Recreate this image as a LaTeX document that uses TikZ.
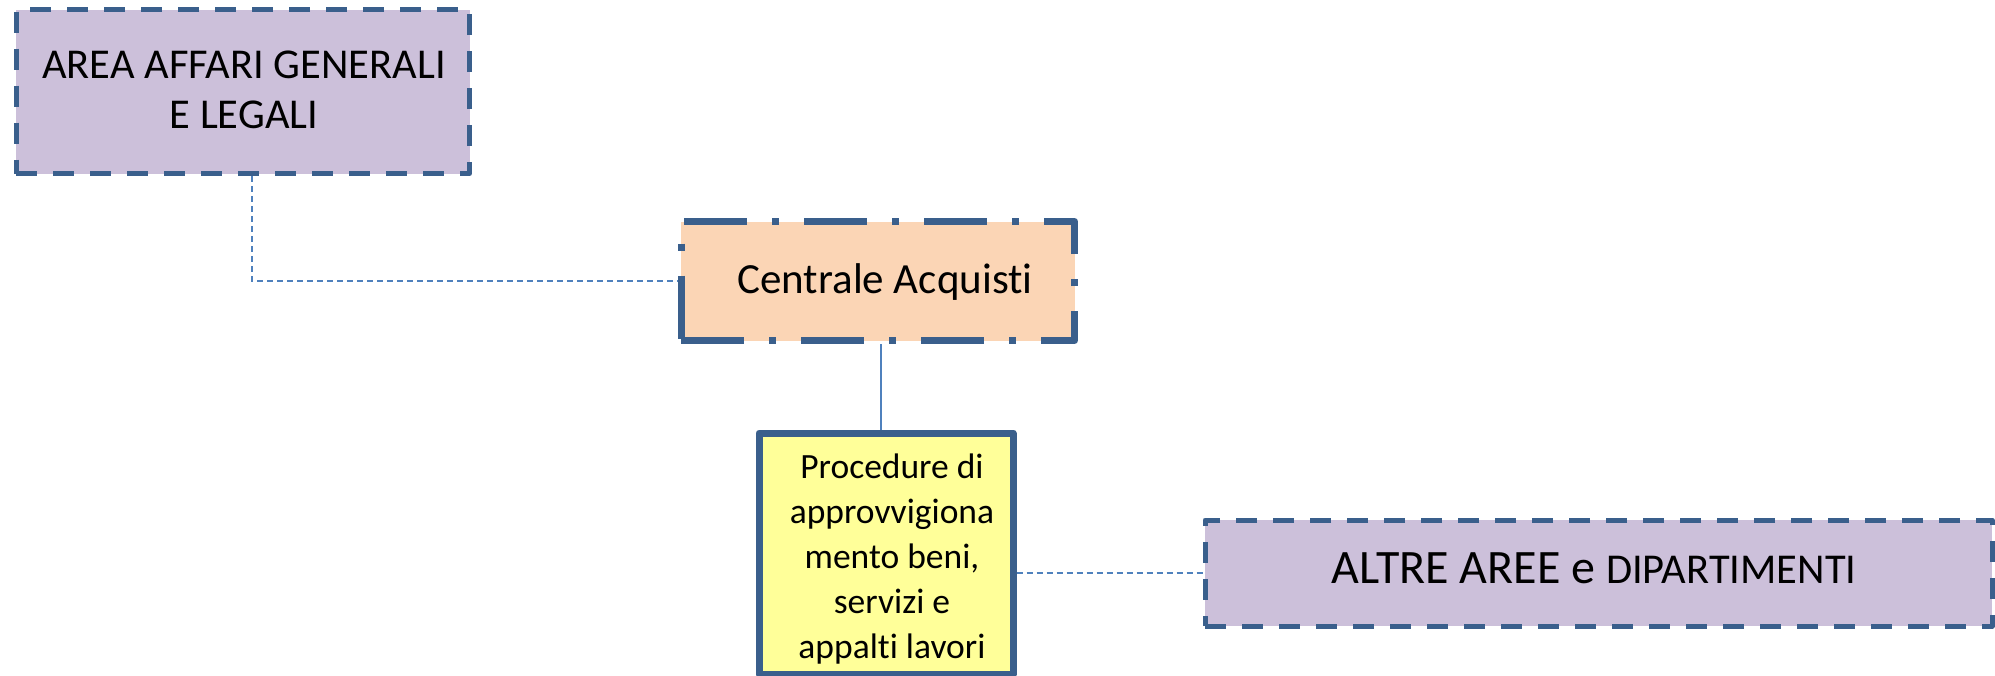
\documentclass[tikz,border=0pt]{standalone}
\usepackage{fontspec}
\setmainfont{Carlito}[Ligatures=NoCommon]
\definecolor{bordc}{RGB}{58,95,140}
\definecolor{linec}{RGB}{79,129,189}
\definecolor{lilac}{RGB}{204,192,218}
\definecolor{peach}{RGB}{251,213,181}
\definecolor{paleyel}{RGB}{255,255,153}
\tikzset{
  boxbase/.style={draw=bordc, rectangle, inner sep=0pt, line join=round},
  dashbox/.style={boxbase, fill=lilac, line width=5pt, dash pattern=on 21pt off 16pt},
  dashdotbox/.style={boxbase, fill=peach, line width=7pt, dash pattern=on 63pt off 25pt on 7pt off 25pt},
  solidbox/.style={boxbase, fill=paleyel, line width=7pt},
  conn/.style={draw=linec, line width=1.5pt},
  dconn/.style={conn, dash pattern=on 6pt off 4pt},
  lbl/.style={inner sep=0pt, text=black, align=center}
}
\begin{document}
\begin{tikzpicture}[x=1pt,y=-1pt]
\useasboundingbox (0,0) rectangle (1995,675);
% boxes
\node[dashbox, minimum width=453.5pt, minimum height=164pt] (area) at (242.75,91.5) {};
\node[dashdotbox, minimum width=393.5pt, minimum height=119pt] (cent) at (877.75,281) {};
\node[solidbox, minimum width=254pt, minimum height=241pt] (proc) at (886,553.5) {};
\node[dashbox, minimum width=787pt, minimum height=106pt] (altre) at (1598.5,573) {};
% texts (base anchor = baseline of the last line)
\node[lbl, anchor=base, font=\fontsize{42.5}{50}\selectfont] (areaT) at (244,128) {AREA AFFARI GENERALI\\E LEGALI};
\node[lbl, anchor=base, font=\fontsize{43}{50}\selectfont] (centT) at (885,293) {Centrale Acquisti};
\node[lbl, anchor=base, font=\fontsize{35.5}{45}\selectfont] (procT) at (892,658) {Procedure di\\approvvigiona\\mento beni,\\servizi e\\appalti lavori};
\node[lbl, anchor=base] (altreT) at (1594,583) {\fontsize{48}{50}\selectfont ALTRE AREE e \fontsize{42.5}{50}\selectfont DIPARTIMENTI};
% connectors
\coordinate (a1) at ([xshift=9.25pt]area.south);
\draw[dconn] (a1) |- (cent.west);
\coordinate (c1) at ([xshift=3.25pt]cent.south);
\draw[conn] (c1) -- (c1 |- proc.north);
\draw[dconn] (proc.east |- altre.west) -- (altre.west);
\end{tikzpicture}
\end{document}
